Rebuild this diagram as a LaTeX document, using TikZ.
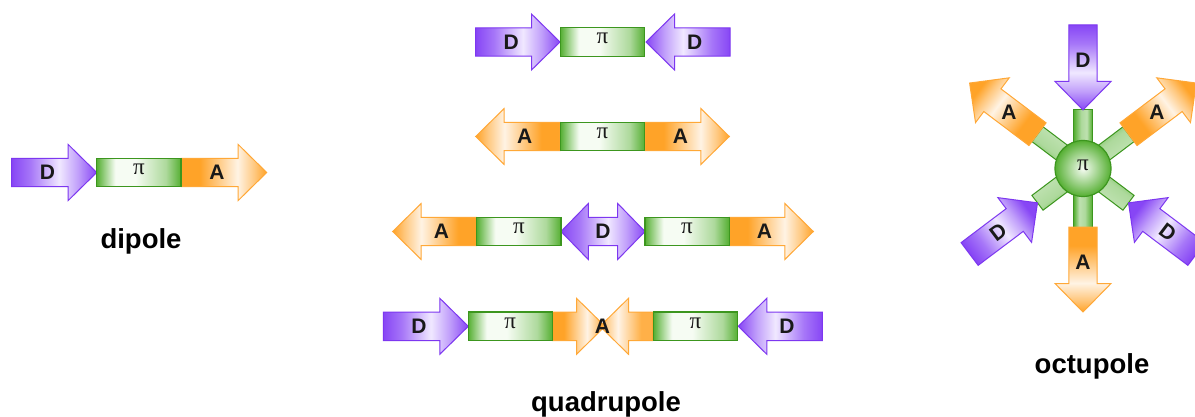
\documentclass[tikz,border=0pt]{standalone}
\usepackage{fontspec}
\newfontfamily\labfont{Liberation Sans}
\newfontfamily\pifont{Liberation Serif}
\definecolor{Dc}{RGB}{135,70,245}
\definecolor{Dl}{RGB}{240,232,255}
\definecolor{Dbd}{RGB}{125,55,240}
\definecolor{Ac}{RGB}{255,163,40}
\definecolor{Al}{RGB}{255,243,228}
\definecolor{Abd}{RGB}{255,168,55}
\definecolor{Gc}{RGB}{85,175,50}
\definecolor{Gl}{RGB}{246,252,243}
\definecolor{Gbd}{RGB}{60,150,30}
\colorlet{Dm}{Dc!70!Dl}
\colorlet{Dn}{Dc!45!Dl}
\colorlet{Am}{Ac!55!Al}
\colorlet{Gm}{Gc!45!Gl}
\colorlet{Gs}{Gc!35!Gl}
\pgfdeclarehorizontalshading{Dshade}{100bp}{color(0bp)=(Dc); color(25bp)=(Dc); color(36bp)=(Dm); color(53bp)=(Dl); color(64bp)=(Dn); color(75bp)=(Dc); color(100bp)=(Dc)}
\pgfdeclarehorizontalshading{Ashade}{100bp}{color(0bp)=(Ac); color(25bp)=(Ac); color(36bp)=(Ac); color(58bp)=(Al); color(68bp)=(Am); color(75bp)=(Ac); color(100bp)=(Ac)}
\pgfdeclarehorizontalshading{Gshade}{100bp}{color(0bp)=(Gc); color(25bp)=(Gc); color(31bp)=(Gm); color(36bp)=(Gl); color(48bp)=(Gl); color(66bp)=(Gm); color(75bp)=(Gc); color(100bp)=(Gc)}
\pgfdeclarehorizontalshading{Gstub}{100bp}{color(0bp)=(Gc); color(25bp)=(Gc); color(40bp)=(Gs); color(55bp)=(Gm); color(75bp)=(Gc); color(100bp)=(Gc)}
\begin{document}
\begin{tikzpicture}[x=1pt,y=-1pt,
  lab/.style={font=\labfont\bfseries\fontsize{21}{21}\selectfont, text=black!90, inner sep=0pt},
  pit/.style={font=\pifont\fontsize{23}{23}\selectfont, text=black!90, text height=10pt, text depth=6pt},
  Dfill/.style={draw=Dbd, line width=1pt, shading=Dshade},
  Afill/.style={draw=Abd, line width=1pt, shading=Ashade},
  pibox/.style={draw=Gbd, line width=1.3pt, shading=Gshade, minimum width=84.3pt, minimum height=28.4pt, inner sep=0pt, pit},
  stub/.style={draw=Gbd, line width=1pt, shading=Gstub},
  title/.style={font=\labfont\bfseries\fontsize{27.5}{30}\selectfont, anchor=base, inner sep=0pt},
  pics/arr/.style n args={4}{code={
    \path[#2] (0,-14.2) -- ({#1-28.5},-14.2) -- ({#1-28.5},-28) -- (#1,0) -- ({#1-28.5},28) -- ({#1-28.5},14.2) -- (0,14.2) -- cycle;
    \node[lab,rotate=#4] (-l) at ({0.42*#1},0) {#3};
  }},
  pics/arrbare/.style n args={2}{code={
    \path[#2] (0,-14.2) -- ({#1-28.5},-14.2) -- ({#1-28.5},-28) -- (#1,0) -- ({#1-28.5},28) -- ({#1-28.5},14.2) -- (0,14.2) -- cycle;
  }},
  pics/dbl/.style={code={
    \path[Dfill] (0,0) -- (27.3,-28) -- (27.3,-14.2) -- (56.7,-14.2) -- (56.7,-28) -- (84,0) -- (56.7,28) -- (56.7,14.2) -- (27.3,14.2) -- (27.3,28) -- cycle;
    \node[lab] (-l) at (42,0) {D};
  }}
]
\useasboundingbox[fill=white] (0,0) rectangle (1195,417);

% ---------- dipole ----------
\pic (dD) at (11.7,172.5) {arr={85}{Dfill}{D}{0}};
\pic (dA) at (181,172.5) {arr={85.7}{Afill}{A}{0}};
\node[pibox] (dP) at (138.85,172.5) {π};
\node[title] (tdip) at (141,248) {dipole};

% ---------- quadrupole ----------
% row 1
\pic (q1a) at (475.7,42) {arr={84.3}{Dfill}{D}{0}};
\pic[rotate=180, shading angle=180] (q1b) at (730,42) {arr={84}{Dfill}{D}{0}};
\node[pibox] (q1p) at (602.5,42) {π};
% row 2
\pic[rotate=180, shading angle=180] (q2a) at (560,136.5) {arr={84.3}{Afill}{A}{0}};
\pic (q2b) at (645,136.5) {arr={84.3}{Afill}{A}{0}};
\node[pibox] (q2p) at (602.5,136.5) {π};
% row 3
\pic[rotate=180, shading angle=180] (q3a) at (476.7,231.5) {arr={84}{Afill}{A}{0}};
\pic (q3d) at (561,231.5) {dbl};
\pic (q3b) at (729,231.5) {arr={84.3}{Afill}{A}{0}};
\node[pibox] (q3p1) at (518.85,231.5) {π};
\node[pibox] (q3p2) at (687,231.5) {π};
% row 4
\pic (q4a) at (383.3,326.3) {arr={85}{Dfill}{D}{0}};
\pic (q4m1) at (552.3,326.3) {arrbare={52.7}{Afill}};
\pic[rotate=180, shading angle=180, fill opacity=0.85] (q4m2) at (652.7,326.3) {arrbare={52.7}{Afill}};
\node[lab] (q4l) at (602.5,326.3) {A};
\pic[rotate=180, shading angle=180] (q4b) at (822.3,326.3) {arr={84}{Dfill}{D}{0}};
\node[pibox] (q4p1) at (510.3,326.3) {π};
\node[pibox] (q4p2) at (695.5,326.3) {π};
\node[title] (tquad) at (606,411.5) {quadrupole};

% ---------- octupole ----------
\foreach \a/\l in {90/58.5,-90/58.5,37/57,143/57,217/57,-37/57}{
  \pgfmathsetmacro{\sa}{\a+90}
  \path[stub, shift={(1083,168.5)}, rotate=\a, shading angle=\sa] (0,-9.25) rectangle (\l,9.25);
}
\node[circle, draw=Gbd, line width=1.2pt, minimum size=56pt, inner sep=0pt, inner color=Gl, outer color=Gc, pit] (oc) at (1083,168.5) {π};
\pic[rotate=-90, shading angle=-90] (oD1) at (1083,25) {arr={85}{Dfill}{D}{0}};
\pic[rotate=-90, shading angle=-90] (oA1) at (1083,227) {arr={85}{Afill}{A}{0}};
\pic[rotate=37, shading angle=37] (oA2) at (1128.5,134.2) {arr={85}{Afill}{A}{0}};
\pic[rotate=143, shading angle=143] (oA3) at (1037.5,134.2) {arr={85}{Afill}{A}{0}};
\pic[rotate=37, shading angle=37] (oD2) at (969.6,254) {arr={85}{Dfill}{D}{37}};
\pic[rotate=143, shading angle=143] (oD3) at (1196.4,254) {arr={85}{Dfill}{D}{-37}};
\node[title] (toct) at (1092,373) {octupole};
\end{tikzpicture}
\end{document}
